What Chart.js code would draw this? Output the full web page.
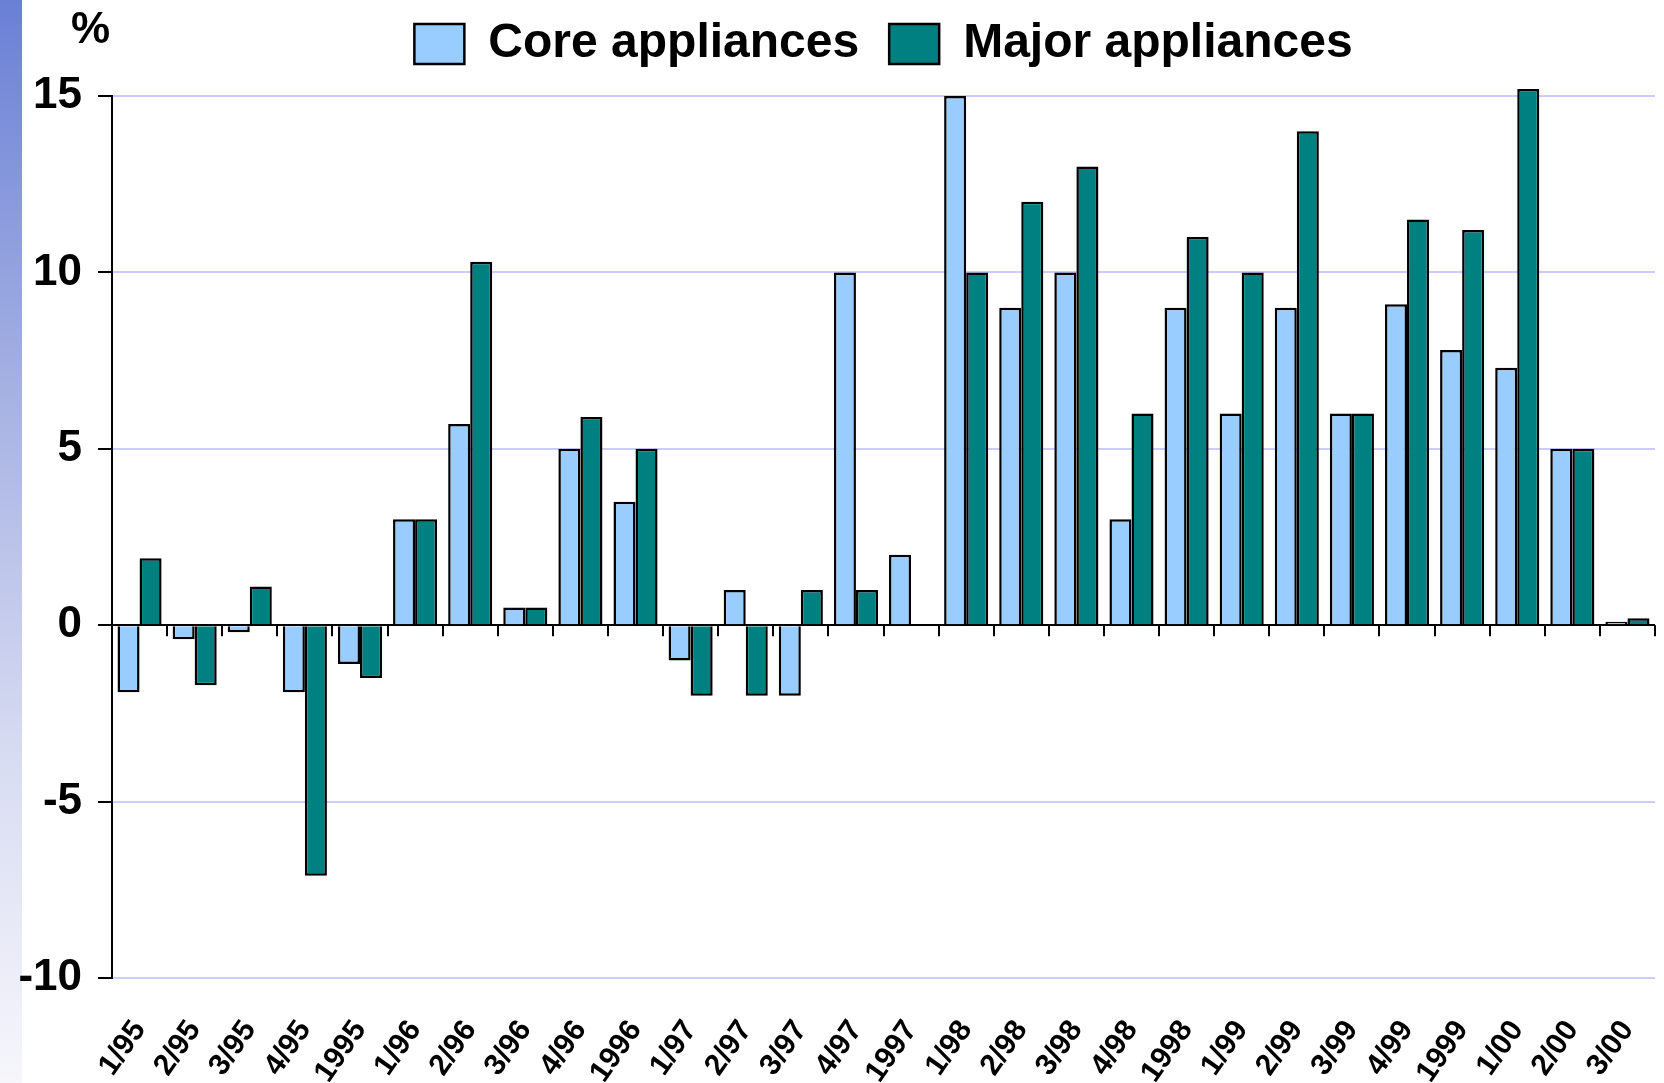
<!DOCTYPE html>
<html>
<head>
<meta charset="utf-8">
<script src="https://cdn.jsdelivr.net/npm/chart.js@4.4.1/dist/chart.umd.min.js"></script>
<style>
  html, body { margin: 0; padding: 0; background: #fff; }
  #wrap { position: relative; width: 1664px; height: 1083px; }
  #stripe { position: absolute; left: 0; top: 0; width: 22px; height: 1083px;
            background: linear-gradient(to bottom, #6a80d6 0%, #a4b0e2 35%, #d8dcf2 70%, #f6f6fb 100%); }
  canvas { position: absolute; left: 0; top: 0; }
</style>
</head>
<body>
<div id="wrap">
  <div id="stripe"></div>
  <canvas id="chart" width="1664" height="1083"></canvas>
</div>
<script>
// quarters / years
var periods = ['1/95', '2/95', '3/95', '4/95', '1995', '1/96', '2/96', '3/96', '4/96', '1996',
               '1/97', '2/97', '3/97', '4/97', '1997', '1/98', '2/98', '3/98', '4/98', '1998',
               '1/99', '2/99', '3/99', '4/99', '1999', '1/00', '2/00', '3/00'];

// % change
var coreValues = [-1.9, -0.4, -0.2, -1.9, -1.1, 3, 5.7, 0.5, 5, 3.5,
                  -1, 1, -2, 10, 2, 15, 9, 10, 3, 9,
                  6, 9, 6, 9.1, 7.8, 7.3, 5, 0.1];
var majorValues = [1.9, -1.7, 1.1, -7.1, -1.5, 3, 10.3, 0.5, 5.9, 5,
                   -2, -2, 1, 1, null, 10, 12, 13, 6, 11,
                   10, 14, 6, 11.5, 11.2, 15.2, 5, 0.2];

var yTicks = [-10, -5, 0, 5, 10, 15];

// black ticks on the zero line between categories + the % sign
var axisExtras = {
    id: 'axisExtras',
    afterLayout: function (chart) {
        // pull the legend up a bit without moving the plot
        if (chart.legend) {
            chart.legend.top -= 18;
            chart.legend.bottom -= 18;
        }
    },
    afterDatasetsDraw: function (chart) {
        var ctx = chart.ctx;
        var x = chart.scales.x;
        var y = chart.scales.y;
        var y0 = y.getPixelForValue(0);
        var step = x.getPixelForValue(1) - x.getPixelForValue(0);
        ctx.save();
        ctx.strokeStyle = '#000';
        ctx.lineWidth = 2;
        for (var i = 0; i <= periods.length; i++) {
            var px = Math.round(x.getPixelForValue(0) - step / 2 + i * step);
            ctx.beginPath();
            ctx.moveTo(px, y0);
            ctx.lineTo(px, y0 + 11);
            ctx.stroke();
        }
        ctx.fillStyle = '#000';
        ctx.font = 'bold 44px "Liberation Sans", Arial, sans-serif';
        ctx.textAlign = 'right';
        ctx.textBaseline = 'middle';
        ctx.fillText('%', chart.chartArea.left - 2, 31);
        ctx.restore();
    }
};

var chartNode = document.getElementById('chart').getContext('2d');
var chart = new Chart(chartNode, {
    type: 'bar',
    data: {
        labels: periods,
        datasets: [{
            label: 'Core appliances',
            data: coreValues,
            backgroundColor: '#99ccff',
            borderColor: '#000',
            borderWidth: 2.5,
            clip: false
        }, {
            label: 'Major appliances',
            data: majorValues,
            backgroundColor: '#008080',
            borderColor: '#000',
            borderWidth: 2.5,
            clip: false
        }]
    },
    options: {
        responsive: false,
        animation: false,
        layout: {
            padding: { left: 13, right: 9, top: 8, bottom: 0 }
        },
        datasets: {
            bar: { categoryPercentage: 0.8, barPercentage: 1.0 }
        },
        plugins: {
            legend: {
                display: true,
                position: 'top',
                fullSize: false,
                labels: {
                    color: '#000',
                    boxWidth: 50,
                    boxHeight: 40,
                    padding: 30,
                    font: { family: '"Liberation Sans", Arial, sans-serif', size: 48, weight: 'bold' }
                }
            },
            title: { display: false },
            tooltip: { enabled: false }
        },
        scales: {
            x: {
                grid: { display: false },
                border: { display: false },
                afterFit: function (scale) {
                    scale.height = 105;
                    scale.paddingLeft = 0;
                    scale.paddingRight = 0;
                },
                ticks: {
                    color: '#000',
                    minRotation: 55,
                    maxRotation: 55,
                    padding: 28,
                    autoSkip: false,
                    font: { family: '"Liberation Sans", Arial, sans-serif', size: 30, weight: 'bold' }
                }
            },
            y: {
                min: -10,
                max: 15,
                afterBuildTicks: function (scale) {
                    scale.ticks = yTicks.map(function (v) { return { value: v }; });
                },
                afterFit: function (scale) {
                    scale.width = 99;
                },
                border: { display: true, color: '#000', width: 2 },
                grid: {
                    color: function (c) { return c.tick && c.tick.value === 0 ? '#000' : '#ccccff'; },
                    lineWidth: 2,
                    tickColor: '#000',
                    tickLength: 14
                },
                ticks: {
                    color: '#000',
                    padding: 16,
                    font: { family: '"Liberation Sans", Arial, sans-serif', size: 44, weight: 'bold' }
                }
            }
        }
    },
    plugins: [axisExtras]
});
</script>
</body>
</html>
